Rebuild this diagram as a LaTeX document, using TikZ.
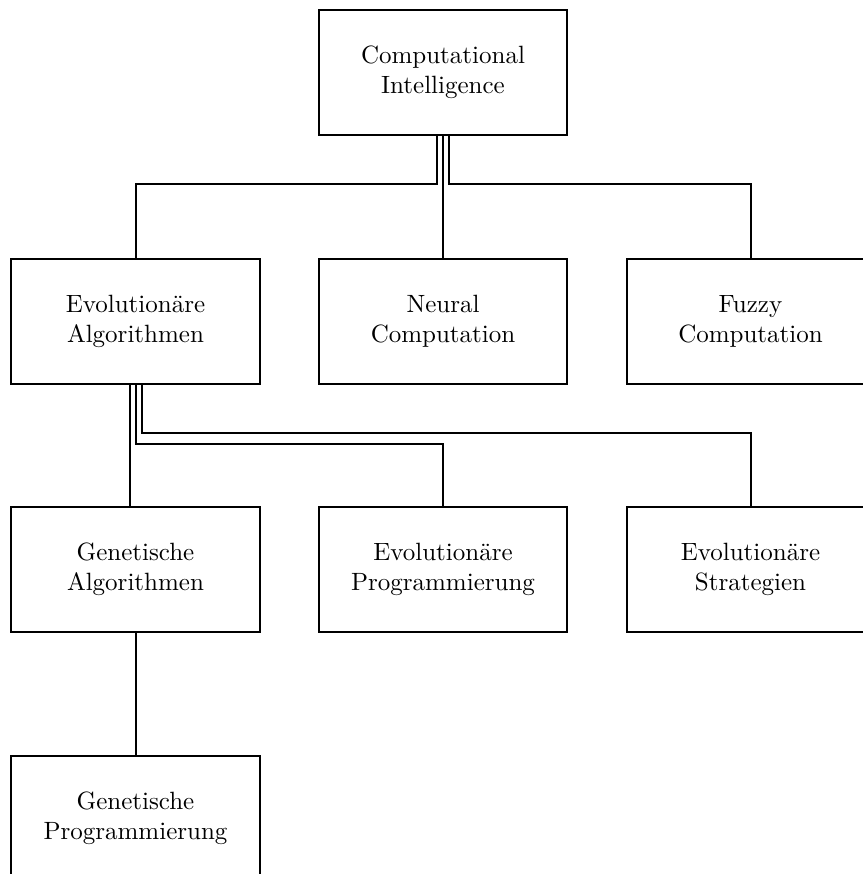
\documentclass[tikz,border=0pt]{standalone}
\begin{document}
\begin{tikzpicture}[x=0.4pt,y=-0.4pt,
  box/.style={draw,rectangle,line width=0.8pt,minimum width=99.2pt,minimum height=50pt,
    inner sep=0pt,align=center,font=\normalsize},
  link/.style={line width=0.8pt}]
\useasboundingbox (0,0) rectangle (862,874);

% boxes
\node[box] (ci) at (443,72)    {Computational\\Intelligence};
\node[box] (ea) at (135.5,321) {Evolutionäre\\Algorithmen};
\node[box] (nc) at (443,321)   {Neural\\Computation};
\node[box] (fc) at (750.5,321) {Fuzzy\\Computation};
\node[box] (ga) at (135.5,569.5) {Genetische\\Algorithmen};
\node[box] (ep) at (443,569.5)   {Evolutionäre\\Programmierung};
\node[box] (es) at (750.5,569.5) {Evolutionäre\\Strategien};
\node[box] (gp) at (135.5,818)   {Genetische\\Programmierung};

% bus levels
\coordinate (busA) at (0,184);
\coordinate (busB) at (0,432.7);
\coordinate (busC) at (0,444.3);

% first level
\draw[link] ([xshift=-2.4pt]ci.south) -- ([xshift=-2.4pt]ci.south |- busA) -| (ea.north);
\draw[link] (ci.south) -- (nc.north);
\draw[link] ([xshift=2.4pt]ci.south) -- ([xshift=2.4pt]ci.south |- busA) -| (fc.north);

% second level
\draw[link] ([xshift=-2.4pt]ea.south) -- ([xshift=-2.4pt]ga.north);
\draw[link] (ea.south) -- (ea.south |- busC) -| (ep.north);
\draw[link] ([xshift=2.4pt]ea.south) -- ([xshift=2.4pt]ea.south |- busB) -| (es.north);

% third level
\draw[link] (ga.south) -- (gp.north);
\end{tikzpicture}
\end{document}
